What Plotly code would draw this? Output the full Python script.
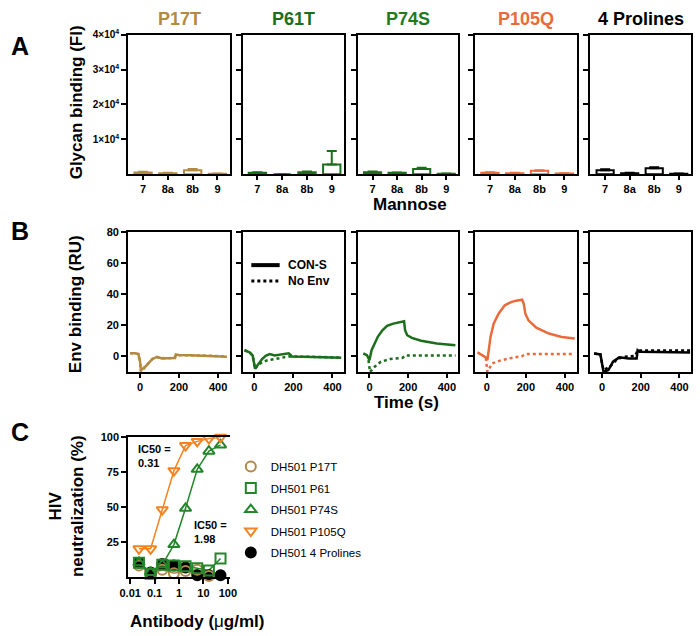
import plotly.graph_objects as go

W, H = 700, 636
FONT = "Arial, 'Liberation Sans', sans-serif"

# ---------------- Panel A: glycan binding ----------------
mannose = ["7", "8a", "8b", "9"]
mutants = ["P17T", "P61T", "P74S", "P105Q", "4 Prolines"]
glycan_p17t = [470, 280, 1130, 100]
glycan_p17t_err = [250, 100, 350, 50]
glycan_p61t = [380, 0, 570, 2740]
glycan_p61t_err = [150, 0, 200, 3880]
glycan_p74s = [570, 380, 1500, 100]
glycan_p74s_err = [200, 100, 300, 50]
glycan_p105q = [380, 280, 950, 190]
glycan_p105q_err = [150, 100, 200, 50]
glycan_4pro = [1130, 280, 1700, 100]
glycan_4pro_err = [300, 100, 300, 50]
glycan_ticks = [10000, 20000, 30000, 40000]
glycan_ticktext = ["1×10<sup>4</sup>", "2×10<sup>4</sup>", "3×10<sup>4</sup>", "4×10<sup>4</sup>"]

# ---------------- Panel B: SPR sensorgrams ----------------
t_p17t_cons = [-50, -25, -8, 0, 5, 15, 32, 50, 64, 88, 100, 112, 140, 176, 180, 184, 200, 256, 320, 380, 445]
ru_p17t_cons = [2, 2, 1.5, -3, -9, -8, -6, -3.5, -1.7, -0.2, -0.8, -1.3, -1.2, -1, -1, 1.3, 1, 0.7, 0.5, 0.2, -0.2]
t_p17t_noenv = [-50, -25, -8, 0, 5, 15, 32, 50, 64, 88, 100, 140, 176, 184, 200, 256, 320, 445]
ru_p17t_noenv = [2, 2, 1.5, -3, -10, -8.5, -6, -3.5, -1.5, -0.5, -1, -1.2, -0.8, 0.8, 0.8, 0.7, 0.6, 0]

t_p61t_cons = [-50, -24, -8, 0, 4, 15, 40, 60, 80, 104, 140, 176, 186, 192, 250, 350, 445]
ru_p61t_cons = [4, 2.6, 0.5, -4, -8, -6, -1.7, 0.5, 1.5, 0.6, 1.3, 2, 1, 0, -0.2, -0.4, -0.8]
t_p61t_noenv = [-50, -24, -8, 0, 4, 20, 40, 64, 100, 128, 160, 176, 192, 250, 350, 445]
ru_p61t_noenv = [4, 2.6, 0.5, -4, -8, -5.5, -3.8, -2.6, -1.6, -1, -0.4, 0, 0, -0.2, -0.4, -0.8]

t_p74s_cons = [-32, -13, 0, 11, 27, 43, 67, 91, 123, 150, 179, 184, 195, 219, 267, 348, 444]
ru_p74s_cons = [1.9, 0.8, -2.4, 4, 8.4, 12.7, 16.9, 19.7, 21.2, 22, 22.7, 16.9, 13.7, 12, 10.1, 8.4, 7.3]
t_p74s_noenv = [-5, 3, 27, 59, 107, 171, 187, 250, 350, 445]
ru_p74s_noenv = [-2.4, -10, -6.6, -3.4, -1.7, -0.9, 0.6, 0.6, 0.6, 0.6]

t_p105q_cons = [-48, -5, 3, 19, 35, 60, 92, 124, 150, 181, 189, 197, 213, 253, 318, 383, 450]
ru_p105q_cons = [2.6, -0.6, -2.4, 12.6, 21.2, 27.6, 33, 35.1, 36, 36.6, 34, 27.6, 23.3, 18.6, 14.8, 12.6, 11.6]
t_p105q_noenv = [-5, 3, 27, 75, 140, 181, 197, 300, 450]
ru_p105q_noenv = [-1, -10, -4.5, -2.4, -0.6, 0.2, 1.5, 1.5, 1.5]

t_4pro_cons = [-41, -8, 0, 8, 33, 57, 89, 138, 179, 184, 195, 333, 455]
ru_4pro_cons = [1.9, 1.3, -4.5, -10, -8.8, -3.4, -0.6, -1.3, -1.3, 4, 3, 2.6, 2.6]
t_4pro_noenv = [-41, -8, 0, 8, 41, 73, 106, 171, 184, 195, 333, 455]
ru_4pro_noenv = [1.9, 1.3, -4.5, -8.8, -6.6, -2.4, -0.3, 0.4, 4, 3.8, 3.8, 3.8]
spr_legend = ["CON-S", "No Env"]

# ---------------- Panel C: neutralization ----------------
conc = [0.0229, 0.0686, 0.206, 0.617, 1.85, 5.56, 16.7, 50]
neut_p17t = [8, 2, 5, 2.5, 4, 5, 0.5]
neut_p61 = [10, 2, 8.5, 8, 7.5, 6, 4.5, 13]
neut_p74s = [10, 3, 8.5, 23, 49, 77, 90, 94.5]
neut_p105q = [20, 20, 48, 76, 94, 97, 99, 100]
neut_4pro = [10, 3, 9, 8, 6.5, 1, 1, 1]
neut_names = ["DH501 P17T", "DH501 P61", "DH501 P74S", "DH501 P105Q", "DH501 4 Prolines"]

GOLD = "#B38A40"
DKGREEN = "#1B6E1B"
GREEN = "#1F7A1F"
ORANGE = "#EB6A3C"
C_GOLD = "#B0894A"
C_GREEN = "#24862A"
C_ORANGE = "#F5831F"

title_colors = [GOLD, DKGREEN, GREEN, ORANGE, "black"]
line_colors = [GOLD, DKGREEN, DKGREEN, ORANGE, "black"]

cols = [(122, 226), (239, 343), (357, 460), (477, 581), (595, 698)]
rowA = (28, 169)
rowB = (228, 369)
panC = ((122, 226), (435, 576))


def px(x):
    return x / W


def py(y):
    return 1 - y / H


def xd(l, r):
    return [px(l), px(r)]


def yd(t, b):
    return [py(b), py(t)]


tickfont = dict(family=FONT, size=11, color="black", weight="bold")
base_ax = dict(showline=True, linecolor="black", linewidth=2, ticks="outside",
               ticklen=5, tickwidth=2, tickcolor="black", showgrid=False,
               zeroline=False, tickfont=tickfont)

fig = go.Figure()
layout = {}

glycan_vals = [glycan_p17t, glycan_p61t, glycan_p74s, glycan_p105q, glycan_4pro]
glycan_errs = [glycan_p17t_err, glycan_p61t_err, glycan_p74s_err, glycan_p105q_err, glycan_4pro_err]

# Panel A
for i in range(5):
    n = i + 1
    sx = "" if n == 1 else str(n)
    fig.add_trace(go.Bar(
        x=mannose, y=glycan_vals[i], width=0.7,
        marker=dict(color="white", line=dict(color=line_colors[i], width=2)),
        error_y=dict(type="data", array=glycan_errs[i], arrayminus=[0] * 4,
                     symmetric=False, color=line_colors[i], thickness=2, width=5),
        xaxis="x" + sx, yaxis="y" + sx, showlegend=False))
    layout["xaxis" + sx] = dict(base_ax, domain=xd(*cols[i]), anchor="y" + sx,
                                 type="category", range=[-0.6, 3.5], mirror=True, ticklen=4)
    layout["yaxis" + sx] = dict(base_ax, domain=yd(*rowA), anchor="x" + sx,
                                 range=[0, 40000], tickvals=glycan_ticks,
                                 ticktext=glycan_ticktext, mirror=True,
                                 showticklabels=(i == 0),
                                 tickfont=dict(tickfont, size=10))

# Panel B
cons_t = [t_p17t_cons, t_p61t_cons, t_p74s_cons, t_p105q_cons, t_4pro_cons]
cons_v = [ru_p17t_cons, ru_p61t_cons, ru_p74s_cons, ru_p105q_cons, ru_4pro_cons]
noenv_t = [t_p17t_noenv, t_p61t_noenv, t_p74s_noenv, t_p105q_noenv, t_4pro_noenv]
noenv_v = [ru_p17t_noenv, ru_p61t_noenv, ru_p74s_noenv, ru_p105q_noenv, ru_4pro_noenv]
for i in range(5):
    n = i + 6
    sx = str(n)
    fig.add_trace(go.Scatter(x=noenv_t[i], y=noenv_v[i], mode="lines",
                             line=dict(color=line_colors[i], width=2.5, dash="dot"),
                             xaxis="x" + sx, yaxis="y" + sx, showlegend=False))
    fig.add_trace(go.Scatter(x=cons_t[i], y=cons_v[i], mode="lines",
                             line=dict(color=line_colors[i], width=2.5),
                             xaxis="x" + sx, yaxis="y" + sx, showlegend=False))
    layout["xaxis" + sx] = dict(base_ax, domain=xd(*cols[i]), anchor="y" + sx,
                                 range=[-60, 460], tickvals=[0, 200, 400], mirror=True, ticklen=4)
    layout["yaxis" + sx] = dict(base_ax, domain=yd(*rowB), anchor="x" + sx,
                                 range=[-10, 80], tickvals=[0, 20, 40, 60, 80],
                                 mirror=True, showticklabels=(i == 0))

# Panel C
neut_vals = [neut_p17t, neut_p61, neut_p74s, neut_p105q, neut_4pro]
neut_colors = [C_GOLD, C_GREEN, C_GREEN, C_ORANGE, "black"]
neut_symbols = ["circle-open", "square-open", "triangle-up-open", "triangle-down-open", "circle"]
draw_order = [4, 0, 1, 2, 3]
for i in draw_order:
    xs = conc[:len(neut_vals[i])]
    fig.add_trace(go.Scatter(x=xs, y=neut_vals[i], mode="lines",
                             line=dict(color=neut_colors[i], width=1.5),
                             xaxis="x11", yaxis="y11", showlegend=False, cliponaxis=False))
for i in draw_order:
    xs = conc[:len(neut_vals[i])]
    fig.add_trace(go.Scatter(x=xs, y=neut_vals[i], mode="markers", name=neut_names[i],
                             marker=dict(symbol=neut_symbols[i], size=10, color=neut_colors[i],
                                         line=dict(width=2, color=neut_colors[i])),
                             xaxis="x11", yaxis="y11", legendrank=i + 1,
                             legendgroup="g%d" % i, cliponaxis=False))
layout["xaxis11"] = dict(base_ax, domain=xd(*panC[0]), anchor="y11", type="log",
                         range=[-2.08, 2.08], tickvals=[0.01, 0.1, 1, 10, 100],
                         ticktext=["0.01", "0.1", "1", "10", "100"], mirror=True)
layout["yaxis11"] = dict(base_ax, domain=yd(*panC[1]), anchor="x11",
                         range=[0, 100], tickvals=[25, 50, 75, 100])

ann = []


def note(text, x, y, font, **kw):
    d = dict(x=px(x), y=py(y), xref="paper", yref="paper", text=text, showarrow=False,
             font=font, xanchor="center", yanchor="middle")
    d.update(kw)
    ann.append(d)


for i in range(5):
    l, r = cols[i]
    note(mutants[i], (l + r) / 2, 12.5, dict(family=FONT, size=18, color=title_colors[i], weight="bold"))
lab = dict(family=FONT, size=25, color="black", weight="bold")
note("A", 11, 39, lab)
note("B", 11, 226, lab)
note("C", 11, 430, lab)
tf = dict(family=FONT, size=17, color="black", weight="bold")
note("Glycan binding (FI)", 70, 96, tf, textangle=-90)
note("Mannose", 410, 200, tf)
note("Env binding (RU)", 68, 300, tf, textangle=-90)
note("Time (s)", 407, 400, tf)
note("HIV<br>neutralization (%)", 59, 505, tf, textangle=-90)
note("Antibody (<span style='font-weight:normal'>μ</span>g/ml)", 192, 621, tf)
icf = dict(family=FONT, size=11, color="black", weight="bold")
note("IC50 =<br>0.31", 130, 439, icf, xanchor="left", yanchor="top", align="left")
note("IC50 =<br>1.98", 187, 516, icf, xanchor="left", yanchor="top", align="left")

# key for the SPR line styles (panel B, second plot)
legf = dict(family=FONT, size=12, color="black", weight="bold")
note(spr_legend[0], 283, 261, legf, xanchor="left")
note(spr_legend[1], 283, 277, legf, xanchor="left")
shapes = [
    dict(type="line", xref="paper", yref="paper", x0=px(248), x1=px(277), y0=py(261), y1=py(261),
         line=dict(color="black", width=4)),
    dict(type="line", xref="paper", yref="paper", x0=px(248), x1=px(277), y0=py(277), y1=py(277),
         line=dict(color="black", width=3, dash="dot")),
]

layout.update(dict(
    width=W, height=H, margin=dict(l=0, r=0, t=0, b=0),
    paper_bgcolor="white", plot_bgcolor="white",
    annotations=ann, shapes=shapes,
    legend=dict(x=px(227), y=py(450), xanchor="left", yanchor="top",
                font=dict(family=FONT, size=11.5, color="black"), tracegroupgap=2.5,
                bgcolor="rgba(0,0,0,0)"),
))
fig.update_layout(layout)
# the page's default 8px body margin would push the 700x636 figure out of the window
fig.write_html("out.html", config={"displayModeBar": False},
               post_script="document.body.style.margin='0';")
